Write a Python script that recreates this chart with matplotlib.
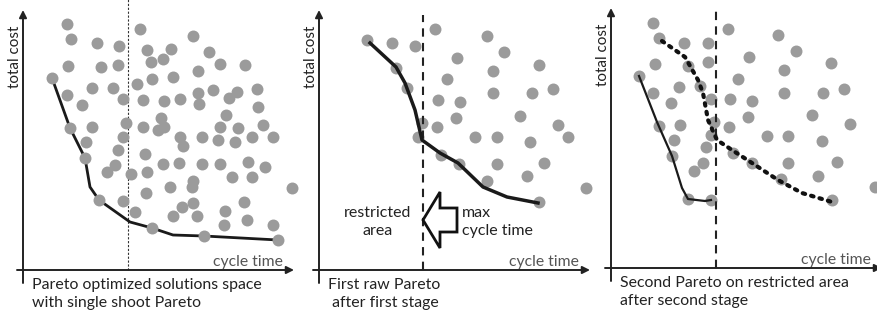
import matplotlib.pyplot as plt
from matplotlib.patches import FancyArrow

# data: (cycle time, total cost) in arbitrary units
p1_x = [44, 48, 74, 96, 117, 124, 128, 140, 148, 170, 186, 197, 222, 175, 150, 129, 114, 95, 78, 45,
        29, 69, 90, 44, 59, 100, 120, 141, 157, 175, 176, 190, 206, 214, 234, 235, 203, 138, 135, 141,
        103, 120, 69, 47, 63, 100, 95, 157, 160, 179, 195, 197, 215, 212, 229, 240, 250, 122, 124, 92,
        84, 108, 140, 156, 179, 197, 225, 242, 209, 229, 62, 147, 170, 169, 269, 123, 170, 159, 150, 174,
        112, 100, 76, 221, 202, 201, 224, 250, 129, 181, 255]
p1_y = [246, 231, 227, 224, 241, 220, 208, 211, 221, 234, 218, 206, 205, 199, 193, 191, 186, 205, 203, 204,
        192, 182, 182, 175, 165, 171, 170, 169, 171, 177, 166, 180, 172, 178, 181, 163, 155, 152, 140, 143,
        147, 143, 143, 142, 128, 133, 120, 133, 124, 133, 130, 143, 142, 128, 133, 145, 133, 116, 98, 105,
        98, 96, 106, 107, 106, 106, 108, 103, 93, 93, 112, 83, 89, 83, 82, 77, 67, 63, 54, 54,
        58, 69, 70, 68, 59, 45, 50, 45, 42, 34, 30]
p1_front_x = [29, 47, 62, 67, 76, 107, 129, 150, 181, 255]
p1_front_y = [192, 142, 112, 83, 70, 48, 42, 35, 34, 30]

p2_x = [48, 73, 96, 116, 168, 185, 220, 138, 174, 128, 77, 88, 119, 141, 174, 213, 234, 201, 137,
        103, 118, 99, 156, 178, 211, 239, 249, 122, 140, 178, 225, 208, 168, 220, 267]
p2_y = [230, 227, 224, 241, 234, 218, 205, 212, 199, 191, 202, 182, 170, 168, 177, 177, 181, 154, 152,
        147, 143, 133, 133, 133, 128, 145, 133, 115, 106, 106, 107, 94, 89, 68, 82]
p2_front_x = [51, 77, 86, 96, 103, 121, 139, 164, 188, 219]
p2_front_y = [227, 203, 187, 160, 130, 117, 107, 83, 73, 67]

p3_x = [42, 48, 73, 97, 117, 167, 185, 220, 138, 173, 127, 97, 77, 44, 28, 68, 89, 42, 60, 100,
        119, 141, 173, 212, 233, 201, 137, 103, 118, 69, 48, 63, 100, 95, 156, 177, 211, 239, 122,
        92, 83, 141, 177, 226, 207, 170, 61, 77, 100, 221, 264]
p3_y = [245, 230, 225, 225, 239, 233, 217, 205, 211, 198, 189, 206, 202, 204, 192, 181, 182, 175, 165, 169,
        169, 167, 175, 175, 179, 153, 151, 146, 141, 143, 142, 128, 133, 121, 132, 132, 127, 144, 115,
        105, 97, 105, 105, 106, 92, 89, 112, 69, 68, 68, 81]
p3_front_x = [28, 46, 61, 71, 77, 94, 100]
p3_front_y = [192, 146, 112, 80, 69, 67, 68]
p3_second_x = [51, 74, 87, 92, 97, 106, 121, 141, 167, 191, 221]
p3_second_y = [227, 211, 188, 175, 148, 128, 118, 105, 88, 75, 66]

max_cycle = [105, 104, 105]
captions = ['Pareto optimized solutions space\nwith single shoot Pareto',
            'First raw Pareto\n after first stage',
            'Second Pareto on restricted area\nafter second stage']

W, H = 877, 317
# panel: left px, width px, origin x px, origin y px
panels = [(0, 290, 23, 270), (290, 295, 319, 270), (585, 292, 611, 268)]
dot = '#9b9b9b'
font = 'Lato'

fig = plt.figure(figsize=(W / 100, H / 100), dpi=100)


def make_panel(i):
    left, width, ox, oy = panels[i]
    ax = fig.add_axes([left / W, 0, width / W, 1])
    ax.set_xlim(left - ox, left + width - ox)
    ax.set_ylim(oy - H, oy)
    ax.axis('off')
    # axes with arrows
    ax.annotate('', xy=(271, 0), xytext=(-6, 0),
                arrowprops=dict(arrowstyle='-|>', lw=1.4, color='#222222', mutation_scale=11,
                                shrinkA=0, shrinkB=0), annotation_clip=False)
    ax.annotate('', xy=(0, 260), xytext=(0, -13),
                arrowprops=dict(arrowstyle='-|>', lw=1.4, color='#222222', mutation_scale=11,
                                shrinkA=0, shrinkB=0), annotation_clip=False)
    ax.text(-8, 213, 'total cost', rotation=90, ha='center', va='center',
            fontsize=11, family=font, color='#222222')
    ax.text(260, 1, 'cycle time', ha='right', va='bottom', fontsize=11.3,
            family=font, color='#555555')
    ax.text(9, -8, captions[i], ha='left', va='top', fontsize=11.4,
            family=font, color='#222222', linespacing=1.35)
    return ax


ax1 = make_panel(0)
ax1.plot([max_cycle[0], max_cycle[0]], [0, 272], color='#333333', lw=0.8, ls=(0, (2, 1.5)))
ax1.plot(p1_front_x, p1_front_y, color='#1a1a1a', lw=2, solid_joinstyle='round', zorder=2)
ax1.scatter(p1_x, p1_y, s=74, color=dot, lw=0, zorder=3, clip_on=False)

ax2 = make_panel(1)
ax2.scatter(p2_x, p2_y, s=74, color=dot, lw=0, zorder=2, clip_on=False)
ax2.plot([max_cycle[1], max_cycle[1]], [0, 255], color='#222222', lw=1.5, ls=(0, (4, 3)))
ax2.plot(p2_front_x, p2_front_y, color='#1a1a1a', lw=2.5, solid_joinstyle='round', zorder=3)
ax2.add_patch(FancyArrow(138, 50, -34, 0, width=24, head_width=56, head_length=17,
                         length_includes_head=True, fc='white', ec='#111111', lw=2, zorder=4))
ax2.text(59, 48, 'restricted\narea', ha='center', va='center', fontsize=11.5,
         family=font, color='#222222', linespacing=1.3)
ax2.text(143, 48, 'max\ncycle time', ha='left', va='center', fontsize=11.5,
         family=font, color='#222222', linespacing=1.3)

ax3 = make_panel(2)
ax3.scatter(p3_x, p3_y, s=74, color=dot, lw=0, zorder=2, clip_on=False)
ax3.plot([max_cycle[2], max_cycle[2]], [0, 260], color='#222222', lw=1.5, ls=(0, (4, 3)))
ax3.plot(p3_front_x, p3_front_y, color='#1a1a1a', lw=1.6, zorder=3)
ax3.plot(p3_second_x, p3_second_y, color='#111111', lw=3, ls=(0, (0.6, 1.5)),
         dash_capstyle='round', zorder=3)

fig.savefig('out.png', dpi=100, facecolor='white')
